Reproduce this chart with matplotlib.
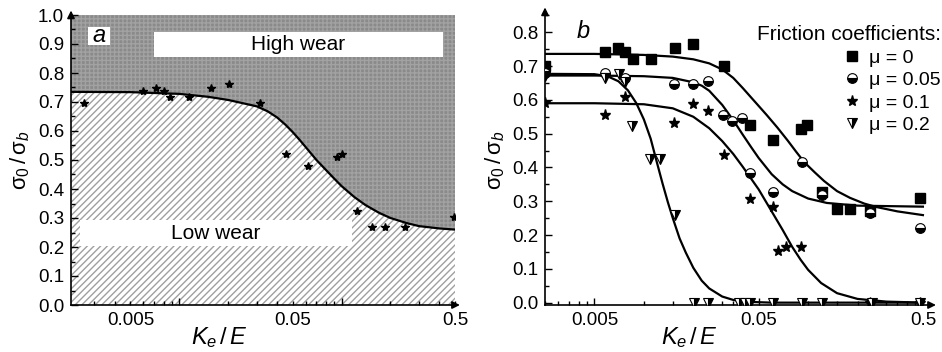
import numpy as np
import matplotlib
matplotlib.use('Agg')
import matplotlib.pyplot as plt
from matplotlib.patches import Rectangle
from matplotlib.ticker import FixedLocator, FixedFormatter

# ---- panel a: wear map (curve + measured points) ----
a_curve_x = [0.00215, 0.005, 0.01, 0.015, 0.02, 0.025, 0.03, 0.035, 0.04, 0.045, 0.05, 0.055,
             0.06, 0.07, 0.08, 0.09, 0.1, 0.12, 0.14, 0.17, 0.2, 0.25, 0.3, 0.4, 0.5]
a_curve_y = [0.735, 0.734, 0.728, 0.718, 0.707, 0.695, 0.685, 0.668, 0.647, 0.622, 0.596, 0.57,
             0.545, 0.50, 0.466, 0.436, 0.41, 0.372, 0.345, 0.318, 0.30, 0.283, 0.272, 0.264, 0.26]
a_pts_x = [0.0026, 0.0060, 0.0072, 0.0080, 0.0088, 0.0115, 0.0156, 0.0202, 0.0314, 0.0452,
           0.0623, 0.0931, 0.1, 0.124, 0.154, 0.185, 0.245, 0.49]
a_pts_y = [0.695, 0.739, 0.75, 0.739, 0.716, 0.716, 0.75, 0.761, 0.695, 0.52,
           0.479, 0.511, 0.52, 0.325, 0.27, 0.27, 0.27, 0.302]

# ---- panel b: four friction coefficients ----
mu_labels = ['μ = 0', 'μ = 0.05', 'μ = 0.1', 'μ = 0.2']

sq_x = [0.0025, 0.00583, 0.00697, 0.00772, 0.00855, 0.0111, 0.0154, 0.0198, 0.0306, 0.044,
        0.061, 0.0906, 0.098, 0.121, 0.149, 0.18, 0.238, 0.48]
sq_y = [0.70, 0.743, 0.754, 0.743, 0.72, 0.72, 0.754, 0.765, 0.70, 0.526,
        0.481, 0.514, 0.526, 0.328, 0.277, 0.277, 0.27, 0.309]

ci_x = [0.0025, 0.00583, 0.00772, 0.0153, 0.0198, 0.0247, 0.0303, 0.0344, 0.0393, 0.0444,
        0.061, 0.0916, 0.121, 0.238, 0.48]
ci_y = [0.68, 0.68, 0.665, 0.646, 0.646, 0.656, 0.555, 0.536, 0.547, 0.383,
        0.328, 0.415, 0.318, 0.264, 0.22]

st_x = [0.0025, 0.00583, 0.00772, 0.0153, 0.0198, 0.0247, 0.0306, 0.044, 0.061, 0.066,
        0.0734, 0.0906, 0.238, 0.48]
st_y = [0.59, 0.555, 0.609, 0.533, 0.589, 0.567, 0.437, 0.306, 0.284, 0.154,
        0.164, 0.164, 0.0, 0.0]

tr_x = [0.0025, 0.00578, 0.00703, 0.00764, 0.00848, 0.01095, 0.01247, 0.0155, 0.0201, 0.0247,
        0.038, 0.041, 0.0444, 0.0615, 0.0916, 0.121, 0.244, 0.48]
tr_y = [0.67, 0.664, 0.677, 0.654, 0.522, 0.424, 0.424, 0.259, 0.0, 0.0,
        0.0, 0.0, 0.0, 0.0, 0.0, 0.0, 0.0, 0.0]

# fitted curves
c0_x = [0.0025, 0.005, 0.01, 0.015, 0.02, 0.025, 0.03, 0.035, 0.04, 0.045, 0.05, 0.056,
        0.065, 0.075, 0.085, 0.095, 0.11, 0.125, 0.15, 0.18, 0.22, 0.26, 0.35, 0.5]
c0_y = [0.736, 0.736, 0.733, 0.728, 0.72, 0.708, 0.69, 0.665, 0.635, 0.607, 0.582, 0.555,
        0.518, 0.48, 0.445, 0.415, 0.385, 0.36, 0.33, 0.31, 0.293, 0.283, 0.27, 0.259]
c1_x = [0.0025, 0.005, 0.01, 0.015, 0.02, 0.0225, 0.025, 0.03, 0.035, 0.04, 0.045, 0.05,
        0.06, 0.07, 0.08, 0.1, 0.13, 0.2, 0.5]
c1_y = [0.672, 0.672, 0.670, 0.665, 0.652, 0.642, 0.627, 0.585, 0.540, 0.497, 0.460, 0.428,
        0.380, 0.350, 0.330, 0.308, 0.295, 0.287, 0.284]
c2_x = [0.0025, 0.005, 0.01, 0.015, 0.02, 0.025, 0.03, 0.035, 0.04, 0.05, 0.06, 0.07,
        0.08, 0.09, 0.1, 0.12, 0.15, 0.2, 0.3, 0.5]
c2_y = [0.59, 0.59, 0.587, 0.575, 0.55, 0.516, 0.478, 0.44, 0.402, 0.335, 0.27, 0.215,
        0.165, 0.127, 0.097, 0.058, 0.028, 0.011, 0.003, 0.0]
c3_x = [0.0025, 0.005, 0.006, 0.007, 0.008, 0.009, 0.01, 0.011, 0.012, 0.013, 0.014, 0.015,
        0.0165, 0.018, 0.02, 0.0225, 0.025, 0.03, 0.035, 0.045, 0.06, 0.5]
c3_y = [0.677, 0.676, 0.670, 0.655, 0.628, 0.59, 0.542, 0.485, 0.415, 0.352, 0.297, 0.25,
        0.19, 0.148, 0.103, 0.065, 0.042, 0.018, 0.008, 0.002, 0.0, 0.0]

plt.rcParams['font.family'] = ['Liberation Sans', 'DejaVu Sans']
plt.rcParams['mathtext.fontset'] = 'custom'
plt.rcParams['mathtext.rm'] = 'Liberation Sans'
plt.rcParams['mathtext.it'] = 'Liberation Sans:italic'
plt.rcParams['hatch.linewidth'] = 1.0

fig = plt.figure(figsize=(9.42, 3.52), dpi=100)
axA = fig.add_axes([71 / 942, 47 / 352, 384 / 942, 290 / 352])
axB = fig.add_axes([545 / 942, 47 / 352, 386 / 942, 293 / 352])


def style(ax, major, major_lab, minor, minor_lab):
    ax.set_xscale('log')
    ax.xaxis.set_major_locator(FixedLocator(major))
    ax.xaxis.set_major_formatter(FixedFormatter(major_lab))
    ax.xaxis.set_minor_locator(FixedLocator(minor))
    ax.xaxis.set_minor_formatter(FixedFormatter(minor_lab))
    for s in ['top', 'right']:
        ax.spines[s].set_visible(False)
    for s in ['left', 'bottom']:
        ax.spines[s].set_linewidth(1.2)
    ax.tick_params(which='both', direction='in', labelsize=13.5, width=1)
    ax.tick_params(which='major', length=5, pad=5)
    ax.tick_params(which='minor', length=3, pad=5)
    ax.annotate('', xy=(1.02, 0), xytext=(0.99, 0), xycoords='axes fraction',
                arrowprops=dict(arrowstyle='-|>', color='k', lw=1.2, mutation_scale=11))
    ax.annotate('', xy=(0, 1.025), xytext=(0, 0.99), xycoords='axes fraction',
                arrowprops=dict(arrowstyle='-|>', color='k', lw=1.2, mutation_scale=11))


# panel a ticks: long ticks at decades, labels on 5x minors
a_major = [0.001, 0.01, 0.1, 1.0]
a_minor = [k * 10.0 ** e for e in (-3, -2, -1) for k in range(2, 10)]
a_minor_lab = [{0.005: '0.005', 0.05: '0.05', 0.5: '0.5'}.get(round(v, 6), '') for v in a_minor]
style(axA, a_major, ['', '', '', ''], a_minor, a_minor_lab)
axA.set_xlim(0.00215, 0.5)
axA.set_ylim(0, 1.0)
axA.set_yticks(np.arange(0, 1.01, 0.1))
axA.set_yticklabels(['%.1f' % v for v in np.arange(0, 1.01, 0.1)])
axA.set_yticks(np.arange(0.05, 1.0, 0.1), minor=True)

axA.fill_between(a_curve_x, a_curve_y, 1.0, facecolor='#8a8a8a', edgecolor='#a2a2a2',
                 hatch='++++', linewidth=0, zorder=0)
axA.fill_between(a_curve_x, 0, a_curve_y, facecolor='white', edgecolor='#a0a0a0',
                 hatch='/////', linewidth=0, zorder=0)
axA.plot(a_curve_x, a_curve_y, color='k', lw=1.6, zorder=3)
axA.plot(a_pts_x, a_pts_y, ls='none', marker='*', color='k', ms=6, zorder=4)

axA.add_patch(Rectangle((0.216, 0.855), 0.753, 0.086, transform=axA.transAxes,
                        facecolor='white', edgecolor='none', zorder=2))
axA.text(0.592, 0.898, 'High wear', transform=axA.transAxes, ha='center', va='center',
         fontsize=15, zorder=3)
axA.add_patch(Rectangle((0.023, 0.203), 0.709, 0.09, transform=axA.transAxes,
                        facecolor='white', edgecolor='none', zorder=2))
axA.text(0.377, 0.248, 'Low wear', transform=axA.transAxes, ha='center', va='center',
         fontsize=15, zorder=3)
axA.add_patch(Rectangle((0.044, 0.897), 0.057, 0.062, transform=axA.transAxes,
                        facecolor='white', edgecolor='none', zorder=2))
axA.text(0.073, 0.928, 'a', transform=axA.transAxes, ha='center', va='center',
         fontsize=17, style='italic', zorder=3)

# panel b ticks: long ticks at 0.005, 0.05, 0.5
b_major = [0.0005, 0.005, 0.05, 0.5]
b_minor = [0.0005 * k * 10.0 ** e for e in (0, 1, 2, 3) for k in range(2, 10)]
style(axB, b_major, ['', '0.005', '0.05', '0.5'], b_minor, [''] * len(b_minor))
axB.set_xlim(0.0025, 0.56)
axB.set_ylim(-0.007, 0.86)
axB.set_yticks(np.arange(0, 0.81, 0.1))
axB.set_yticklabels(['%.1f' % v for v in np.arange(0, 0.81, 0.1)])
axB.set_yticks(np.arange(0.05, 0.86, 0.1), minor=True)

for cx, cy in [(c0_x, c0_y), (c1_x, c1_y), (c2_x, c2_y), (c3_x, c3_y)]:
    axB.plot(cx, cy, color='k', lw=1.6, zorder=2)

h0, = axB.plot(sq_x, sq_y, ls='none', marker='s', ms=6.5, color='k', zorder=3)
h1, = axB.plot(ci_x, ci_y, ls='none', marker='o', ms=7, fillstyle='bottom', mfc='k',
               markerfacecoloralt='white', mec='k', mew=0.8, zorder=3)
h2, = axB.plot(st_x, st_y, ls='none', marker='*', ms=8, color='k', zorder=3)
h3, = axB.plot(tr_x, tr_y, ls='none', marker='v', ms=7.5, fillstyle='right', mfc='k',
               markerfacecoloralt='white', mec='k', mew=0.8, zorder=3)

axB.text(0.098, 0.932, 'b', transform=axB.transAxes, ha='center', va='center',
         fontsize=17, style='italic')
axB.legend([h0, h1, h2, h3], mu_labels, title='Friction coefficients:', loc='upper right',
           bbox_to_anchor=(1.025, 0.955), bbox_transform=axB.transAxes, frameon=False,
           alignment='right', fontsize=14, title_fontsize=15, handlelength=0.8,
           handletextpad=0.5, labelspacing=0.25, borderaxespad=0, borderpad=0)

# axis titles
fig.text(20 / 942, 1 - 160 / 352, r'$\mathrm{σ_0\,/\,σ}_b$', rotation=90, ha='center',
         va='center', fontsize=16)
fig.text(495 / 942, 1 - 160 / 352, r'$\mathrm{σ_0\,/\,σ}_b$', rotation=90, ha='center',
         va='center', fontsize=16)
fig.text(219 / 942, 1 - 338 / 352, r'$K_e\,/\,E$', ha='center', va='center', fontsize=17)
fig.text(689 / 942, 1 - 338 / 352, r'$K_e\,/\,E$', ha='center', va='center', fontsize=17)

fig.savefig('out.png', dpi=100)
